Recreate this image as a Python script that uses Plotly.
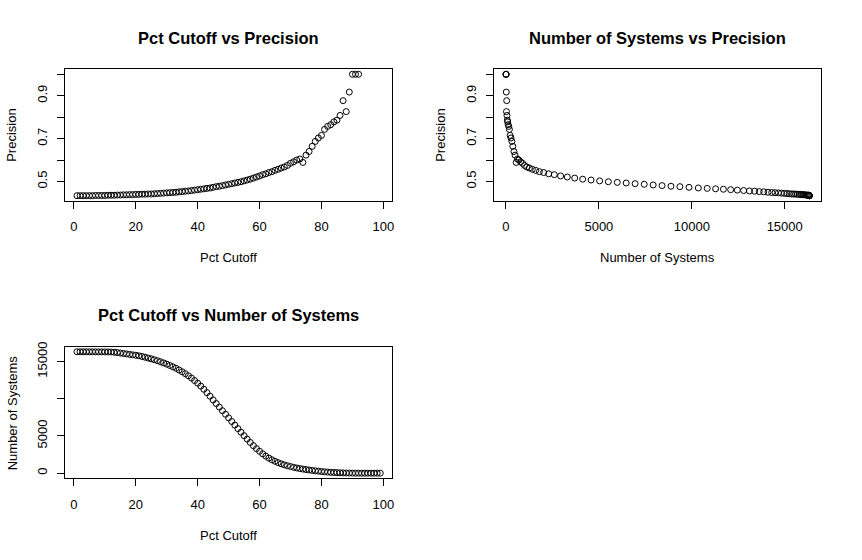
import plotly.graph_objects as go

# percent cutoff used for each run
pct_cutoff = list(range(1, 100))

# number of systems kept at each cutoff (pct 1..99)
num_systems = [
    16320, 16320, 16318, 16316, 16314, 16312, 16310, 16308, 16306, 16304,
    16300, 16290, 16260, 16210, 16150, 16090, 16030, 15970, 15910, 15850,
    15780, 15690, 15590, 15480, 15370, 15250, 15120, 14980, 14820, 14660,
    14480, 14300, 14100, 13870, 13630, 13380, 13100, 12790, 12450, 12090,
    11700, 11280, 10830, 10350, 9850, 9360, 8880, 8400, 7920, 7440,
    6950, 6470, 5990, 5510, 5040, 4580, 4130, 3700, 3300, 2940,
    2600, 2300, 2030, 1800, 1600, 1420, 1260, 1120, 1000, 890,
    790, 700, 620, 550, 490, 430, 370, 320, 270, 225,
    185, 150, 120, 95, 75, 55, 40, 28, 18, 10,
    5, 2, 0, 0, 0, 0, 0, 0, 0,
]

# precision at each cutoff (only defined up to pct 92)
precision = [
    0.434, 0.434, 0.434, 0.434, 0.434, 0.434, 0.435, 0.435, 0.435, 0.435,
    0.436, 0.436, 0.436, 0.437, 0.437, 0.438, 0.438, 0.439, 0.439, 0.440,
    0.440, 0.441, 0.441, 0.442, 0.442, 0.443, 0.444, 0.445, 0.446, 0.447,
    0.448, 0.449, 0.450, 0.452, 0.453, 0.455, 0.456, 0.458, 0.460, 0.462,
    0.464, 0.466, 0.468, 0.470, 0.473, 0.476, 0.478, 0.481, 0.484, 0.487,
    0.490, 0.493, 0.496, 0.499, 0.503, 0.507, 0.511, 0.516, 0.521, 0.526,
    0.532, 0.536, 0.542, 0.546, 0.552, 0.557, 0.563, 0.568, 0.575, 0.585,
    0.592, 0.600, 0.605, 0.589, 0.623, 0.640, 0.664, 0.687, 0.703, 0.715,
    0.743, 0.757, 0.765, 0.778, 0.786, 0.808, 0.877, 0.826, 0.917, 1.0,
    1.0, 1.0,
]
precision = precision + [None] * (len(pct_cutoff) - len(precision))

# systems/precision pairs where precision exists
ns_valid = [n for n, p in zip(num_systems, precision) if p is not None]
pr_valid = [p for p in precision if p is not None]


def r_range(vals):
    # R's default axis padding (4% each side)
    lo, hi = min(vals), max(vals)
    d = (hi - lo) * 0.04
    return [lo - d, hi + d]


W, H = 862, 560
FONT = "Liberation Sans, Arial, sans-serif"

marker = dict(symbol="circle-open", size=6, color="black", line=dict(width=1, color="black"))

fig = go.Figure()
fig.add_trace(go.Scatter(x=pct_cutoff, y=precision, mode="markers", marker=marker,
                         xaxis="x", yaxis="y", cliponaxis=False))
fig.add_trace(go.Scatter(x=ns_valid, y=pr_valid, mode="markers", marker=marker,
                         xaxis="x2", yaxis="y2", cliponaxis=False))
fig.add_trace(go.Scatter(x=pct_cutoff, y=num_systems, mode="markers", marker=marker,
                         xaxis="x3", yaxis="y3", cliponaxis=False))


def px(a, b):
    return [a / W, b / W]


def py(top, bottom):
    return [1 - bottom / H, 1 - top / H]


ax_common = dict(
    showline=True, mirror=True, linecolor="black", linewidth=1,
    ticks="outside", ticklen=7, tickcolor="black", tickwidth=1,
    showgrid=False, zeroline=False,
    tickfont=dict(family=FONT, size=13, color="black"),
)

prec_ticks = [0.5, 0.6, 0.7, 0.8, 0.9, 1.0]
prec_text = ["0.5", "", "0.7", "", "0.9", ""]

fig.update_layout(
    width=W, height=H,
    margin=dict(l=0, r=0, t=0, b=0),
    paper_bgcolor="white", plot_bgcolor="white",
    showlegend=False,
    font=dict(family=FONT, size=13, color="black"),
    xaxis=dict(ax_common, domain=px(65, 393.3), anchor="y", range=r_range(pct_cutoff),
               tickvals=[0, 20, 40, 60, 80, 100], ticklabelstandoff=7),
    yaxis=dict(ax_common, domain=py(65, 197.3), anchor="x", range=r_range(pr_valid),
               tickvals=prec_ticks, ticktext=prec_text, tickangle=-90, ticklabelstandoff=5),
    xaxis2=dict(ax_common, domain=px(495, 823.3), anchor="y2", range=r_range(ns_valid),
                tickvals=[0, 5000, 10000, 15000], ticktext=["0", "5000", "10000", "15000"],
                ticklabelstandoff=7),
    yaxis2=dict(ax_common, domain=py(65, 197.3), anchor="x2", range=r_range(pr_valid),
                tickvals=prec_ticks, ticktext=prec_text, tickangle=-90, ticklabelstandoff=5),
    xaxis3=dict(ax_common, domain=px(65, 393.3), anchor="y3", range=r_range(pct_cutoff),
                tickvals=[0, 20, 40, 60, 80, 100], ticklabelstandoff=7),
    yaxis3=dict(ax_common, domain=py(345, 477.3), anchor="x3", range=r_range(num_systems),
                tickvals=[0, 5000, 10000, 15000], ticktext=["0", "5000", "", "15000"],
                tickangle=-90, ticklabelstandoff=5),
)


def label(text, x, y, size=13, bold=False, angle=0):
    fig.add_annotation(
        text=f"<b>{text}</b>" if bold else text,
        x=x / W, y=1 - y / H, xref="paper", yref="paper",
        showarrow=False, textangle=angle, xanchor="center", yanchor="middle",
        font=dict(family=FONT, size=size, color="black"),
    )


# titles
label("Pct Cutoff vs Precision", 229, 33, size=16.5, bold=True)
label("Number of Systems vs Precision", 659, 33, size=16.5, bold=True)
label("Pct Cutoff vs Number of Systems", 229, 313, size=16.5, bold=True)

# axis titles
label("Pct Cutoff", 229, 255)
label("Precision", 12, 131, angle=-90)
label("Number of Systems", 659, 255)
label("Precision", 442, 131, angle=-90)
label("Pct Cutoff", 229, 535)
label("Number of Systems", 12, 411, angle=-90)

# drop the browser's default page margin so the figure fills the window
fig.write_html(
    "out.html",
    config={"displayModeBar": False},
    post_script="document.body.style.margin = '0px';",
)
